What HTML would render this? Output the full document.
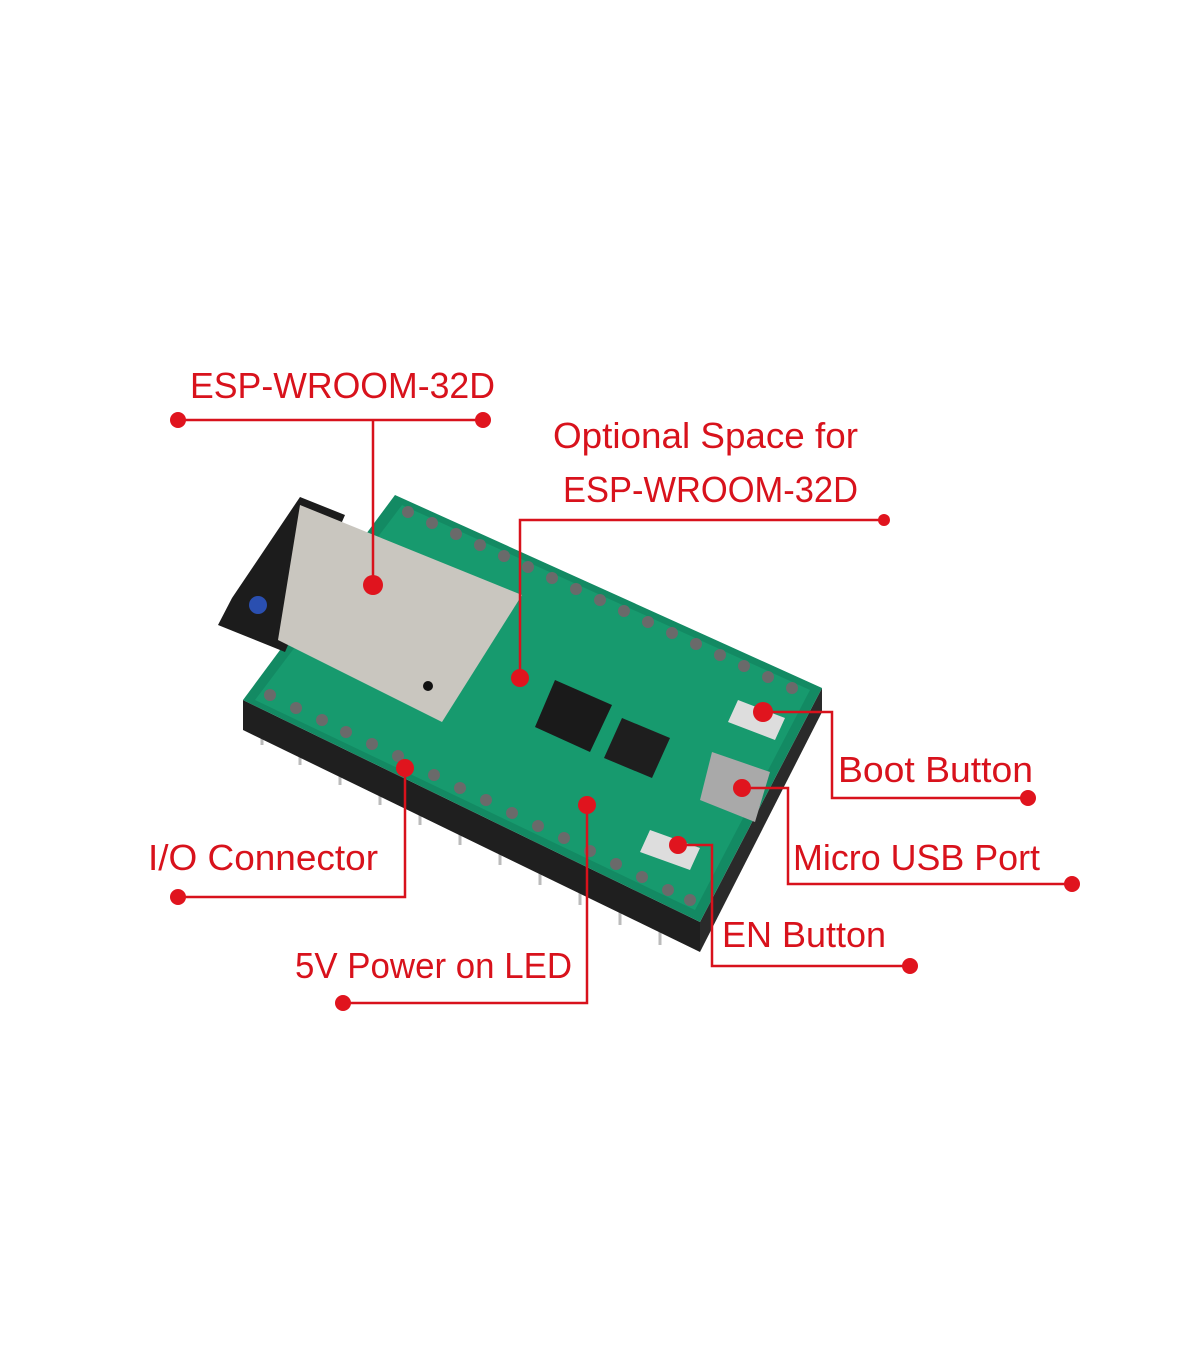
<!DOCTYPE html>
<html><head><meta charset="utf-8"><style>
html,body{margin:0;padding:0;background:#fff}
svg{display:block}
text{font-family:"Liberation Sans",sans-serif;fill:#d8121c;font-size:36px}
</style></head><body>
<svg width="1200" height="1372" viewBox="0 0 1200 1372">
<!-- header strip & pins -->
<g stroke="#bbb" stroke-width="3">
<line x1="262" y1="730" x2="262" y2="745"/><line x1="300" y1="748" x2="300" y2="765"/><line x1="340" y1="766" x2="340" y2="785"/><line x1="380" y1="785" x2="380" y2="805"/><line x1="420" y1="805" x2="420" y2="825"/><line x1="460" y1="825" x2="460" y2="845"/><line x1="500" y1="843" x2="500" y2="865"/><line x1="540" y1="862" x2="540" y2="885"/><line x1="580" y1="880" x2="580" y2="905"/><line x1="620" y1="900" x2="620" y2="925"/><line x1="660" y1="918" x2="660" y2="945"/>
</g>
<polygon points="243,700 700,922 700,952 243,730" fill="#1f1f1f"/>
<polygon points="700,922 822,688 822,712 700,952" fill="#2a2a2a"/>
<!-- board -->
<polygon points="395,495 822,688 700,922 243,700" fill="#138a63"/>
<polygon points="402,505 810,690 695,910 255,700" fill="#179a6e"/>
<!-- antenna -->
<polygon points="300,497 345,515 285,652 218,625 232,598" fill="#1c1c1c"/>
<circle cx="258" cy="605" r="9" fill="#2a4fb0"/>
<!-- module shield -->
<polygon points="290,630 440,705 450,690 300,618" fill="#222"/>
<polygon points="300,505 522,595 442,722 278,640" fill="#c9c6bf"/>
<circle cx="428" cy="686" r="5" fill="#111"/>
<!-- chips -->
<polygon points="555,680 612,705 590,752 535,727" fill="#1a1a1a"/>
<polygon points="622,718 670,738 652,778 604,758" fill="#1e1e1e"/>
<polygon points="712,752 770,772 755,822 700,800" fill="#a9a9a9"/>
<polygon points="738,700 785,718 775,740 728,722" fill="#ddd"/>
<polygon points="650,830 700,848 690,870 640,852" fill="#ddd"/>
<!-- header dots -->
<g fill="#6a6a6a">
<circle cx="270" cy="695" r="6"/><circle cx="296" cy="708" r="6"/><circle cx="322" cy="720" r="6"/><circle cx="346" cy="732" r="6"/><circle cx="372" cy="744" r="6"/><circle cx="398" cy="756" r="6"/><circle cx="434" cy="775" r="6"/><circle cx="460" cy="788" r="6"/><circle cx="486" cy="800" r="6"/><circle cx="512" cy="813" r="6"/><circle cx="538" cy="826" r="6"/><circle cx="564" cy="838" r="6"/><circle cx="590" cy="851" r="6"/><circle cx="616" cy="864" r="6"/><circle cx="642" cy="877" r="6"/><circle cx="668" cy="890" r="6"/><circle cx="690" cy="900" r="6"/>
<circle cx="408" cy="512" r="6"/><circle cx="432" cy="523" r="6"/><circle cx="456" cy="534" r="6"/><circle cx="480" cy="545" r="6"/><circle cx="504" cy="556" r="6"/><circle cx="528" cy="567" r="6"/><circle cx="552" cy="578" r="6"/><circle cx="576" cy="589" r="6"/><circle cx="600" cy="600" r="6"/><circle cx="624" cy="611" r="6"/><circle cx="648" cy="622" r="6"/><circle cx="672" cy="633" r="6"/><circle cx="696" cy="644" r="6"/><circle cx="720" cy="655" r="6"/><circle cx="744" cy="666" r="6"/><circle cx="768" cy="677" r="6"/><circle cx="792" cy="688" r="6"/>
</g>
<!-- leaders -->
<g stroke="#d8121c" stroke-width="2.5" fill="none">
<polyline points="178,420 483,420"/><polyline points="373,420 373,585"/>
<polyline points="520,678 520,520 884,520"/>
<polyline points="763,712 832,712 832,798 1028,798"/>
<polyline points="742,788 788,788 788,884 1072,884"/>
<polyline points="678,845 712,845 712,966 910,966"/>
<polyline points="587,805 587,1003 343,1003"/>
<polyline points="405,768 405,897 178,897"/>
</g>
<g fill="#e0141e">
<circle cx="178" cy="420" r="8"/><circle cx="483" cy="420" r="8"/><circle cx="373" cy="585" r="10"/>
<circle cx="520" cy="678" r="9"/><circle cx="884" cy="520" r="6"/>
<circle cx="763" cy="712" r="10"/><circle cx="1028" cy="798" r="8"/>
<circle cx="742" cy="788" r="9"/><circle cx="1072" cy="884" r="8"/>
<circle cx="678" cy="845" r="9"/><circle cx="910" cy="966" r="8"/>
<circle cx="587" cy="805" r="9"/><circle cx="343" cy="1003" r="8"/>
<circle cx="405" cy="768" r="9"/><circle cx="178" cy="897" r="8"/>
</g>
<text x="190" y="398" textLength="305" lengthAdjust="spacingAndGlyphs">ESP-WROOM-32D</text>
<text x="553" y="448" textLength="305" lengthAdjust="spacingAndGlyphs">Optional Space for</text>
<text x="563" y="502" textLength="295" lengthAdjust="spacingAndGlyphs">ESP-WROOM-32D</text>
<text x="838" y="782" textLength="195" lengthAdjust="spacingAndGlyphs">Boot Button</text>
<text x="793" y="870" textLength="247" lengthAdjust="spacingAndGlyphs">Micro USB Port</text>
<text x="722" y="947" textLength="164" lengthAdjust="spacingAndGlyphs">EN Button</text>
<text x="295" y="978" textLength="277" lengthAdjust="spacingAndGlyphs">5V Power on LED</text>
<text x="148" y="870" textLength="230" lengthAdjust="spacingAndGlyphs">I/O Connector</text>
</svg>
</body></html>
